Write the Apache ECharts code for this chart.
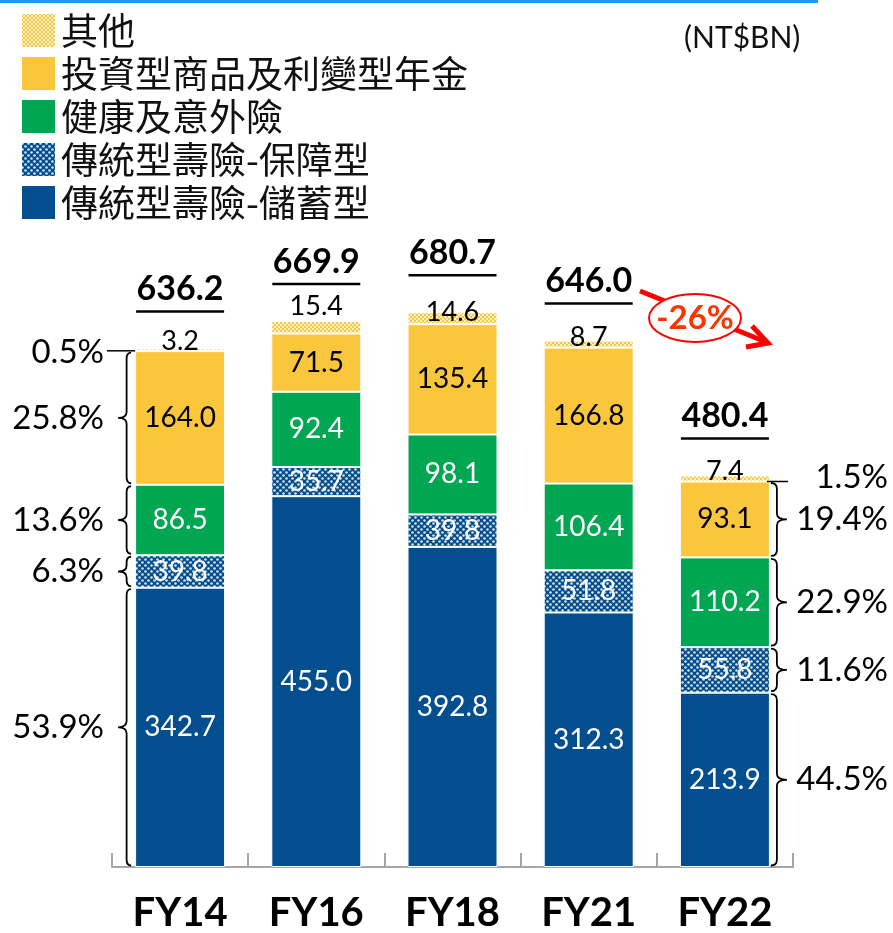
<!DOCTYPE html>
<html>
<head>
<meta charset="utf-8">
<script src="https://cdn.jsdelivr.net/npm/echarts@6/dist/echarts.min.js"></script>
<style>
html,body{margin:0;padding:0;background:#fff;}
#chart{width:893px;height:933px;}
</style>
</head>
<body>
<div id="chart"></div>
<script>
// ---- data ----
const categories = ['FY14', 'FY16', 'FY18', 'FY21', 'FY22'];
const savings    = [342.7, 455.0, 392.8, 312.3, 213.9];
const protection = [39.8, 35.7, 39.8, 51.8, 55.8];
const health     = [86.5, 92.4, 98.1, 106.4, 110.2];
const investment = [164.0, 71.5, 135.4, 166.8, 93.1];
const others     = [3.2, 15.4, 14.6, 8.7, 7.4];
const totals     = [636.2, 669.9, 680.7, 646.0, 480.4];
const sharesFY14 = ['53.9%', '6.3%', '13.6%', '25.8%', '0.5%'];
const sharesFY22 = ['44.5%', '11.6%', '22.9%', '19.4%', '1.5%'];
const seriesNames = ['傳統型壽險-儲蓄型', '傳統型壽險-保障型', '健康及意外險', '投資型商品及利變型年金', '其他'];
const unitText = '(NT$BN)';
const changeText = '-26%';

// ---- styles ----
const NUM_FONT = 'Lato, "Open Sans", sans-serif';
const CJK_FONT = '"Noto Sans CJK TC", "Noto Sans", sans-serif';
const BLUE = '#034E8E', GREEN = '#00A651', YELLOW = '#FAC63C';
const BAR_W = 90;
const otherLift = [7, 15, 0, 3, 4];

function makePattern(bg, fg, kind) {
  const c = document.createElement('canvas');
  const ctx = c.getContext('2d');
  if (kind === 'dots') {
    c.width = 6; c.height = 6;
    ctx.fillStyle = bg; ctx.fillRect(0, 0, 6, 6);
    ctx.fillStyle = fg;
    ctx.beginPath(); ctx.arc(1.5, 1.5, 1.3, 0, Math.PI * 2); ctx.fill();
    ctx.beginPath(); ctx.arc(4.5, 4.5, 1.3, 0, Math.PI * 2); ctx.fill();
  } else {
    c.width = 4; c.height = 4;
    ctx.fillStyle = bg; ctx.fillRect(0, 0, 4, 4);
    ctx.fillStyle = fg;
    ctx.fillRect(0, 0, 2, 2); ctx.fillRect(2, 2, 2, 2);
  }
  return { image: c, repeat: 'repeat' };
}
const bluePattern = makePattern(BLUE, 'rgba(255,255,255,0.85)', 'dots');
const yellowPattern = makePattern(YELLOW, 'rgba(255,255,255,0.75)', 'check');

const segValues = [savings, protection, health, investment, others];
const segColors = [BLUE, bluePattern, GREEN, YELLOW, yellowPattern];
const labelColors = ['#fff', '#fff', '#fff', '#000', '#000'];

const barSeries = segValues.map((vals, s) => {
  const isOther = s === 4;
  return {
    name: seriesNames[s],
    type: 'bar',
    stack: 'total',
    barWidth: BAR_W,
    itemStyle: { color: segColors[s], borderColor: '#fff', borderWidth: 1 },
    label: {
      show: true,
      position: 'inside',
      color: labelColors[s],
      fontFamily: NUM_FONT,
      fontSize: 28,
      formatter: p => p.value.toFixed(1)
    },
    data: isOther
      ? vals.map((v, i) => ({ value: v, label: { position: ['50%', -otherLift[i]], align: 'center', verticalAlign: 'middle', fontSize: 27 } }))
      : vals
  };
});

// bracket data (FY14 left, FY22 right)
const bracketData = [];
const bracketText = [];
[[0, sharesFY14, -1], [4, sharesFY22, 1]].forEach(([ci, shares, side]) => {
  let cum = 0;
  segValues.forEach((vals, s) => {
    bracketData.push([ci, cum, cum + vals[ci], side, s === 4 ? 1 : 0]);
    bracketText.push(shares[s]);
    cum += vals[ci];
  });
});

const option = {
  animation: false,
  grid: { left: 112, right: 100, top: 215, bottom: 62 },
  legend: {
    orient: 'vertical',
    left: 15, top: 7,
    itemWidth: 35, itemHeight: 35, itemGap: 6,
    icon: 'rect',
    data: seriesNames.slice().reverse(),
    textStyle: { fontFamily: CJK_FONT, fontSize: 37, color: '#111', padding: [0, 0, 0, 0] },
    selectedMode: false
  },
  xAxis: {
    type: 'category',
    data: categories,
    axisLine: { lineStyle: { color: '#A6A6A6', width: 2 } },
    axisTick: { show: true, inside: true, length: 14, lineStyle: { color: '#A6A6A6', width: 2 } },
    axisLabel: { fontFamily: NUM_FONT, fontWeight: 'bold', fontSize: 40, color: '#000', margin: 26 }
  },
  yAxis: { type: 'value', min: 0, max: 800, show: false, splitLine: { show: false } },
  series: barSeries.concat([
    {
      type: 'custom',
      z: 5,
      silent: true,
      data: totals.map((t, i) => [i, t]),
      renderItem: (params, api) => {
        const p = api.coord([api.value(0), api.value(1)]);
        return {
          type: 'group',
          children: [
            { type: 'text', style: { x: p[0], y: p[1] - 59, text: totals[params.dataIndex].toFixed(1), fontFamily: NUM_FONT, fontWeight: 'bold', fontSize: 34, fill: '#000', align: 'center', verticalAlign: 'middle' } },
            { type: 'line', shape: { x1: p[0] - 44, y1: p[1] - 37, x2: p[0] + 44, y2: p[1] - 37 }, style: { stroke: '#000', lineWidth: 2.5 } }
          ]
        };
      }
    },
    {
      type: 'custom',
      z: 5,
      silent: true,
      data: bracketData,
      renderItem: (params, api) => {
        const ci = api.value(0), v0 = api.value(1), v1 = api.value(2), side = api.value(3), isOther = api.value(4);
        const pB = api.coord([ci, v0]);
        const pT = api.coord([ci, v1]);
        const cx = pB[0];
        const edge = cx + side * BAR_W / 2;
        const text = bracketText[params.dataIndex];
        const labelX = side < 0 ? 104 : 888;
        if (isOther) {
          const ly = (pB[1] + pT[1]) / 2 + (side < 0 ? 1 : 3);
          const x1 = side < 0 ? 107 : edge - 3;
          const x2 = side < 0 ? edge : edge + 18;
          return {
            type: 'group', children: [
              { type: 'line', shape: { x1: x1, y1: ly, x2: x2, y2: ly }, style: { stroke: '#000', lineWidth: 1.5 } },
              { type: 'text', style: { x: labelX, y: ly + (side < 0 ? 2 : -4), text: text, fontFamily: NUM_FONT, fontSize: 33, fill: '#000', align: 'right', verticalAlign: 'middle' } }
            ]
          };
        }
        const yTop = pT[1] + 1.5, yBot = pB[1] - 1.5, ym = (yTop + yBot) / 2;
        const r = Math.min(6, (yBot - yTop) / 4);
        const xh = side < 0 ? edge - 4 : edge + 1;
        const xv = side < 0 ? edge - 8.5 : edge + 7;
        const xt = side < 0 ? edge - 17 : edge + 17;
        const d = 'M' + xh + ' ' + yTop +
          ' Q' + xv + ' ' + yTop + ' ' + xv + ' ' + (yTop + r) +
          ' L' + xv + ' ' + (ym - r) +
          ' Q' + xv + ' ' + ym + ' ' + xt + ' ' + ym +
          ' Q' + xv + ' ' + ym + ' ' + xv + ' ' + (ym + r) +
          ' L' + xv + ' ' + (yBot - r) +
          ' Q' + xv + ' ' + yBot + ' ' + xh + ' ' + yBot;
        return {
          type: 'group', children: [
            { type: 'path', shape: { pathData: d }, style: { stroke: '#000', lineWidth: 1.8, fill: null } },
            { type: 'text', style: { x: labelX, y: ym, text: text, fontFamily: NUM_FONT, fontSize: 33, fill: '#000', align: 'right', verticalAlign: 'middle' } }
          ]
        };
      }
    }
  ]),
  graphic: [
    { type: 'rect', shape: { x: 0, y: 0, width: 818, height: 3 }, style: { fill: '#2196F3' } },
    { type: 'text', left: 684, top: 23, style: { text: unitText, fontFamily: NUM_FONT, fontSize: 30, fill: '#111' } },
    { type: 'line', shape: { x1: 640, y1: 291, x2: 766, y2: 342 }, style: { stroke: '#FF0000', lineWidth: 5 } },
    { type: 'polyline', shape: { points: [[752, 326], [768, 343], [746, 347]] }, style: { stroke: '#FF0000', lineWidth: 5, fill: null } },
    { type: 'ellipse', shape: { cx: 695, cy: 318, rx: 46, ry: 24 }, style: { stroke: '#FF0000', lineWidth: 2, fill: '#fff' } },
    { type: 'text', x: 695, y: 318, style: { text: changeText, fontFamily: NUM_FONT, fontWeight: 'bold', fontSize: 33, fill: '#FF3300', align: 'center', verticalAlign: 'middle' } }
  ]
};

const chart = echarts.init(document.getElementById('chart'), null, { renderer: 'canvas' });
chart.setOption(option);
</script>
</body>
</html>
